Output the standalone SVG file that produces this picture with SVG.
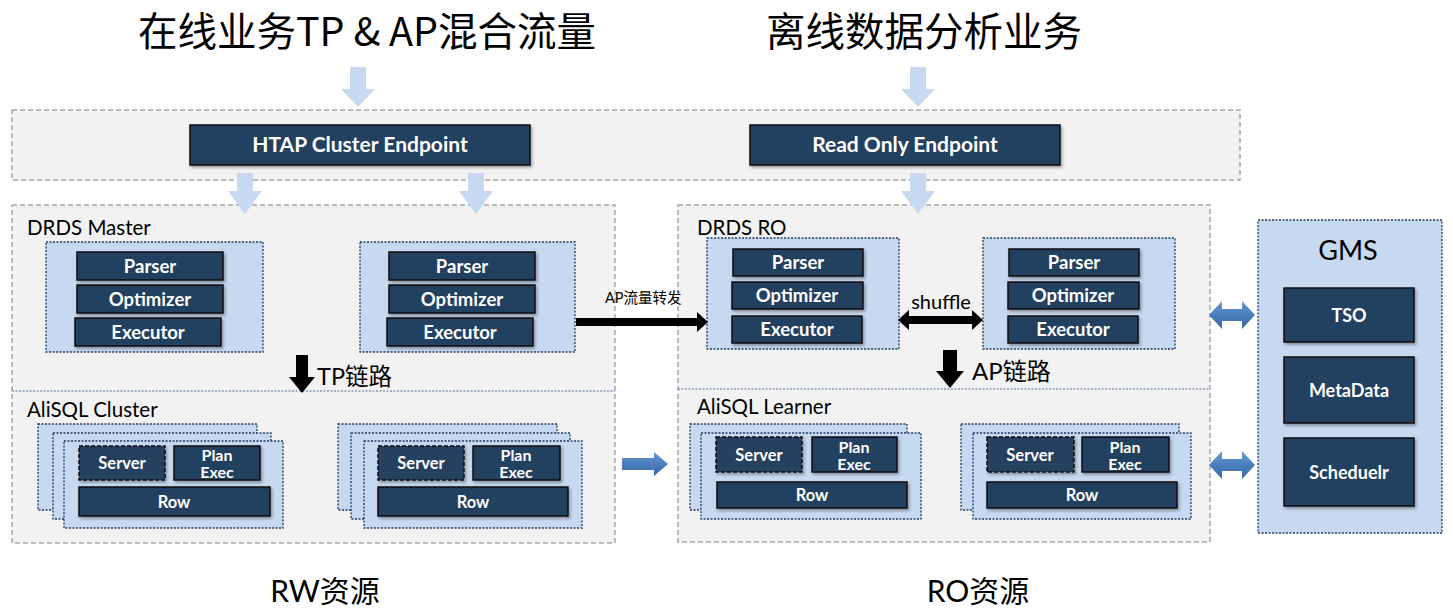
<svg xmlns="http://www.w3.org/2000/svg" width="1453" height="612" viewBox="0 0 1453 612">
<defs>
<style>
.title{font-family:"Noto Sans CJK SC","Noto Sans",sans-serif;font-size:39.5px;fill:#000;text-anchor:middle}
.foot{font-family:"Lato","Noto Sans CJK SC",sans-serif;font-size:30px;fill:#000;text-anchor:middle}
.band{fill:#f2f2f2;stroke:#a6a6a6;stroke-width:1.5;stroke-dasharray:5 3}
.inner{fill:#c6d9f0;stroke:#1f3a5f;stroke-width:1.3;stroke-dasharray:2 1.5}
.dk{fill:#243f60;stroke:#0d0d0d;stroke-width:1.5;filter:url(#sh)}
.dkd{fill:#283f5e;stroke:#0d0d0d;stroke-width:1.5;stroke-dasharray:4 2;filter:url(#sh)}
.bt{font-family:"Lato","Liberation Sans",sans-serif;font-weight:bold;fill:#fff;text-anchor:middle}
.lbl{font-family:"Lato","Liberation Sans",sans-serif;font-size:20.5px;fill:#000}
.div{stroke:#4f6f9a;stroke-width:1;stroke-dasharray:2 1.5}
.la{fill:#c6d9f0}
.ba{fill:#000}
.zh{font-family:"Lato","Noto Sans CJK SC",sans-serif;fill:#000}
</style>
<filter id="sh" x="-10%" y="-20%" width="125%" height="150%">
<feDropShadow dx="1.5" dy="2" stdDeviation="1.5" flood-color="#000" flood-opacity="0.35"/>
</filter>
<linearGradient id="bg" x1="0" y1="0" x2="0" y2="1">
<stop offset="0" stop-color="#6b9bd8"/>
<stop offset="0.5" stop-color="#4a7ebb"/>
<stop offset="1" stop-color="#3a6aa6"/>
</linearGradient>
</defs>
<rect width="1453" height="612" fill="#fff"/>

<g id="titles">
<text class="title" x="367" y="46">在线业务TP &amp; AP混合流量</text>
<text class="title" x="924" y="46">离线数据分析业务</text>
<text class="foot" x="325" y="602">RW资源</text>
<text class="foot" x="978" y="602">RO资源</text>
</g>

<g id="endpoint-band">
<rect class="band" x="12" y="110" width="1228" height="70"/>
</g>
<g id="htap-endpoint">
<rect class="dk" x="190" y="125" width="340" height="40"/>
<text class="bt" x="360" y="152" font-size="21">HTAP Cluster Endpoint</text>
</g>
<g id="ro-endpoint">
<rect class="dk" x="750" y="125" width="310" height="40"/>
<text class="bt" x="905" y="152" font-size="21">Read Only Endpoint</text>
</g>

<g id="drds-master">
<rect class="band" x="12" y="205" width="603" height="338"/>
<line class="div" x1="12" y1="391" x2="615" y2="391"/>
<text class="lbl" x="27" y="235">DRDS Master</text>
<text class="lbl" x="27" y="417">AliSQL Cluster</text>
</g>
<g id="master-cn1">
<rect class="inner" x="46" y="242" width="217" height="110"/>
<rect class="dk" x="77" y="252" width="146" height="28"/>
<text class="bt" x="150" y="272.5" font-size="18.5">Parser</text>
<rect class="dk" x="77" y="285" width="146" height="28"/>
<text class="bt" x="150" y="305.5" font-size="18.5">Optimizer</text>
<rect class="dk" x="75" y="318" width="146" height="28"/>
<text class="bt" x="148" y="338.5" font-size="18.5">Executor</text>
</g>
<g id="master-cn2">
<rect class="inner" x="360" y="242" width="215" height="110"/>
<rect class="dk" x="389" y="252" width="146" height="28"/>
<text class="bt" x="462" y="272.5" font-size="18.5">Parser</text>
<rect class="dk" x="389" y="285" width="146" height="28"/>
<text class="bt" x="462" y="305.5" font-size="18.5">Optimizer</text>
<rect class="dk" x="387" y="318" width="146" height="28"/>
<text class="bt" x="460" y="338.5" font-size="18.5">Executor</text>
</g>
<g id="alisql-cluster1">
<rect class="inner" x="38" y="424" width="219" height="86"/>
<rect class="inner" x="53" y="433" width="218" height="86"/>
<rect class="inner" x="64" y="441" width="219" height="87"/>
<rect class="dkd" x="79" y="446" width="86" height="34"/>
<text class="bt" x="122" y="469" font-size="16.5">Server</text>
<rect class="dk" x="174" y="446" width="86" height="34"/>
<text class="bt" x="217" y="461" font-size="16">Plan</text>
<text class="bt" x="217" y="478" font-size="16">Exec</text>
<rect class="dk" x="79" y="487" width="191" height="29"/>
<text class="bt" x="174" y="508" font-size="16.5">Row</text>
</g>
<g id="alisql-cluster2">
<rect class="inner" x="338" y="424" width="219" height="86"/>
<rect class="inner" x="351" y="433" width="219" height="86"/>
<rect class="inner" x="364" y="441" width="218" height="87"/>
<rect class="dkd" x="378" y="446" width="86" height="34"/>
<text class="bt" x="421" y="469" font-size="16.5">Server</text>
<rect class="dk" x="473" y="446" width="87" height="34"/>
<text class="bt" x="516" y="461" font-size="16">Plan</text>
<text class="bt" x="516" y="478" font-size="16">Exec</text>
<rect class="dk" x="378" y="487" width="190" height="29"/>
<text class="bt" x="473" y="508" font-size="16.5">Row</text>
</g>

<g id="drds-ro">
<rect class="band" x="678" y="205" width="532" height="337"/>
<line class="div" x1="678" y1="389" x2="1210" y2="389"/>
<text class="lbl" x="697" y="235">DRDS RO</text>
<text class="lbl" x="697" y="414">AliSQL Learner</text>
</g>
<g id="ro-cn1">
<rect class="inner" x="707" y="238" width="192" height="111"/>
<rect class="dk" x="733" y="249" width="130" height="27"/>
<text class="bt" x="798" y="269" font-size="18.5">Parser</text>
<rect class="dk" x="732" y="282" width="131" height="27"/>
<text class="bt" x="797" y="302" font-size="18.5">Optimizer</text>
<rect class="dk" x="732" y="316" width="130" height="27"/>
<text class="bt" x="797" y="336" font-size="18.5">Executor</text>
</g>
<g id="ro-cn2">
<rect class="inner" x="983" y="238" width="192" height="111"/>
<rect class="dk" x="1009" y="249" width="130" height="27"/>
<text class="bt" x="1074" y="269" font-size="18.5">Parser</text>
<rect class="dk" x="1008" y="282" width="131" height="27"/>
<text class="bt" x="1073" y="302" font-size="18.5">Optimizer</text>
<rect class="dk" x="1008" y="316" width="130" height="27"/>
<text class="bt" x="1073" y="336" font-size="18.5">Executor</text>
</g>
<g id="alisql-learner1">
<rect class="inner" x="690" y="424" width="217" height="86"/>
<rect class="inner" x="701" y="433" width="220" height="86"/>
<rect class="dkd" x="716" y="437" width="86" height="35"/>
<text class="bt" x="759" y="460.5" font-size="16.5">Server</text>
<rect class="dk" x="812" y="437" width="85" height="35"/>
<text class="bt" x="854" y="452.5" font-size="16">Plan</text>
<text class="bt" x="854" y="469.5" font-size="16">Exec</text>
<rect class="dk" x="717" y="482" width="190" height="26"/>
<text class="bt" x="812" y="501" font-size="16.5">Row</text>
</g>
<g id="alisql-learner2">
<rect class="inner" x="961" y="424" width="218" height="86"/>
<rect class="inner" x="973" y="433" width="218" height="86"/>
<rect class="dkd" x="987" y="437" width="87" height="35"/>
<text class="bt" x="1030" y="460.5" font-size="16.5">Server</text>
<rect class="dk" x="1082" y="437" width="87" height="35"/>
<text class="bt" x="1125" y="452.5" font-size="16">Plan</text>
<text class="bt" x="1125" y="469.5" font-size="16">Exec</text>
<rect class="dk" x="987" y="482" width="190" height="26"/>
<text class="bt" x="1082" y="501" font-size="16.5">Row</text>
</g>

<g id="gms">
<rect class="inner" x="1258" y="220" width="184" height="313"/>
<text x="1348" y="260" font-family="Lato,'Liberation Sans',sans-serif" font-size="27" text-anchor="middle" fill="#000">GMS</text>
<rect class="dk" x="1284" y="288" width="130" height="54"/>
<text class="bt" x="1349" y="321.5" font-size="18">TSO</text>
<rect class="dk" x="1284" y="357" width="130" height="66"/>
<text class="bt" x="1349" y="396.5" font-size="18">MetaData</text>
<rect class="dk" x="1284" y="438" width="130" height="68"/>
<text class="bt" x="1349" y="478.5" font-size="18">Scheduelr</text>
</g>

<g id="connectors">
<polygon class="la" points="350,67 366,67 366,89 375,89 358,107 341,89 350,89"/>
<polygon class="la" points="910,67 926,67 926,89 935,89 918,107 901,89 910,89"/>
<polygon class="la" points="237,173 253,173 253,191 262,191 245,214 228,191 237,191"/>
<polygon class="la" points="468,173 484,173 484,191 493,191 476,214 459,191 468,191"/>
<polygon class="la" points="910,173 926,173 926,191 935,191 918,214 901,191 910,191"/>
<polygon class="ba" points="296,355 308,355 308,377 315,377 302,393 289,377 296,377"/>
<text class="zh" x="317" y="385" font-size="23.5">TP链路</text>
<polygon class="ba" points="943,350 957,350 957,371 964,371 950,388 936,371 943,371"/>
<text class="zh" x="972" y="380" font-size="24">AP链路</text>
<polygon class="ba" points="576,318 697,318 697,312 708,322 697,332 697,326 576,326"/>
<text class="zh" x="605" y="303" font-size="14.5">AP流量转发</text>
<polygon class="ba" points="898,320 909,310 909,316 972,316 972,310 983,320 972,330 972,324 909,324 909,330"/>
<text class="zh" x="941" y="309" font-size="20" text-anchor="middle">shuffle</text>
<polygon fill="url(#bg)" points="622,458 654,458 654,452 668,464 654,476 654,470 622,470"/>
<polygon fill="url(#bg)" points="1209,315 1222,301 1222,309 1242,309 1242,301 1255,315 1242,329 1242,321 1222,321 1222,329"/>
<polygon fill="url(#bg)" points="1209,465 1222,451 1222,459 1242,459 1242,451 1255,465 1242,479 1242,471 1222,471 1222,479"/>
</g>
</svg>
